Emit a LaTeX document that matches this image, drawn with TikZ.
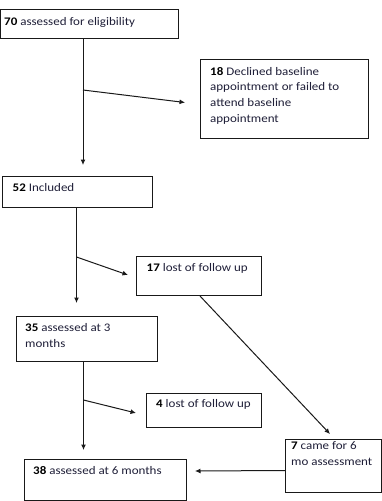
\documentclass[tikz,border=0pt]{standalone}
\usepackage{fontspec}
\setmainfont{Carlito}[FakeStretch=1.12]
\usetikzlibrary{arrows.meta,calc}
\definecolor{txt}{rgb}{0.12,0.12,0.22}
\definecolor{ln}{rgb}{0.1,0.1,0.1}
\tikzset{
  box/.style={draw=ln, line width=1pt, rectangle, inner sep=0pt, anchor=north west},
  lbl/.style={anchor=base west, inner sep=0pt, text=txt, font=\fontsize{11.6}{16}\selectfont},
  conn/.style={draw=ln, line width=1pt, -{Latex[length=5.5pt,width=5pt]}},
  plain/.style={draw=ln, line width=1pt}
}
\begin{document}
\begin{tikzpicture}[x=1pt,y=-1pt]
\useasboundingbox (0,0) rectangle (382,501);
% boxes
\node[box, minimum width=178pt, minimum height=29pt] (b1) at (0,9) {};
\node[box, minimum width=168pt, minimum height=79pt] (b2) at (200,59) {};
\node[box, minimum width=150pt, minimum height=31pt] (b3) at (2,176) {};
\node[box, minimum width=125pt, minimum height=39pt] (b4) at (136,256) {};
\node[box, minimum width=141pt, minimum height=45pt] (b5) at (16,316) {};
\node[box, minimum width=115pt, minimum height=34pt] (b6) at (146,393) {};
\node[box, minimum width=96pt, minimum height=53pt] (b7) at (285,439) {};
\node[box, minimum width=162pt, minimum height=41pt] (b8) at (24,459) {};
% labels
\node[lbl] (t1) at (4,25) {\textcolor{black}{\textbf{70}} assessed for eligibility};
\node[lbl] (t2a) at (210,75) {\textcolor{black}{\textbf{18}} Declined baseline};
\node[lbl] (t2b) at (210,90.7) {appointment or failed to};
\node[lbl] (t2c) at (210,106.4) {attend baseline};
\node[lbl] (t2d) at (210,122.1) {appointment};
\node[lbl] (t3) at (12.5,191.5) {\textcolor{black}{\textbf{52}} Included};
\node[lbl] (t4) at (146.5,271.5) {\textcolor{black}{\textbf{17}} lost of follow up};
\node[lbl] (t5a) at (25,331) {\textcolor{black}{\textbf{35}} assessed at 3};
\node[lbl] (t5b) at (25,347) {months};
\node[lbl] (t6) at (156,407.5) {\textcolor{black}{\textbf{4}} lost of follow up};
\node[lbl] (t7a) at (291,449.3) {\textcolor{black}{\textbf{7}} came for 6};
\node[lbl] (t7b) at (291,465) {mo assessment};
\node[lbl] (t8) at (33,474) {\textcolor{black}{\textbf{38}} assessed at 6 months};
% connector coordinates
\coordinate (s1) at (b1.south west -| 83,0);
\coordinate (e1) at (83,165);
\coordinate (j1) at (83,90);
\coordinate (k1) at (185,102.5);
\coordinate (s2) at (b3.south west -| 76.5,0);
\coordinate (e2) at (76.5,303);
\coordinate (j2) at (76.5,257);
\coordinate (k2) at (128,275);
\coordinate (s3) at (b5.south west -| 83.5,0);
\coordinate (e3) at (83.5,450);
\coordinate (j3) at (83.5,400);
\coordinate (k3) at (136,413);
\coordinate (s4) at (b4.south west -| 200,0);
\coordinate (e4) at (330,434);
\coordinate (s5) at (b7.west |- 0,470.5);
\coordinate (e5) at (195,471);
% connectors
\draw[conn] (s1) -- (e1);
\draw[conn] (j1) -- (k1);
\draw[conn] (s2) -- (e2);
\draw[conn] (j2) -- (k2);
\draw[conn] (s3) -- (e3);
\draw[conn] (j3) -- (k3);
\draw[conn] (s4) -- (e4);
\draw[conn] (s5) -- (e5);
\end{tikzpicture}
\end{document}
